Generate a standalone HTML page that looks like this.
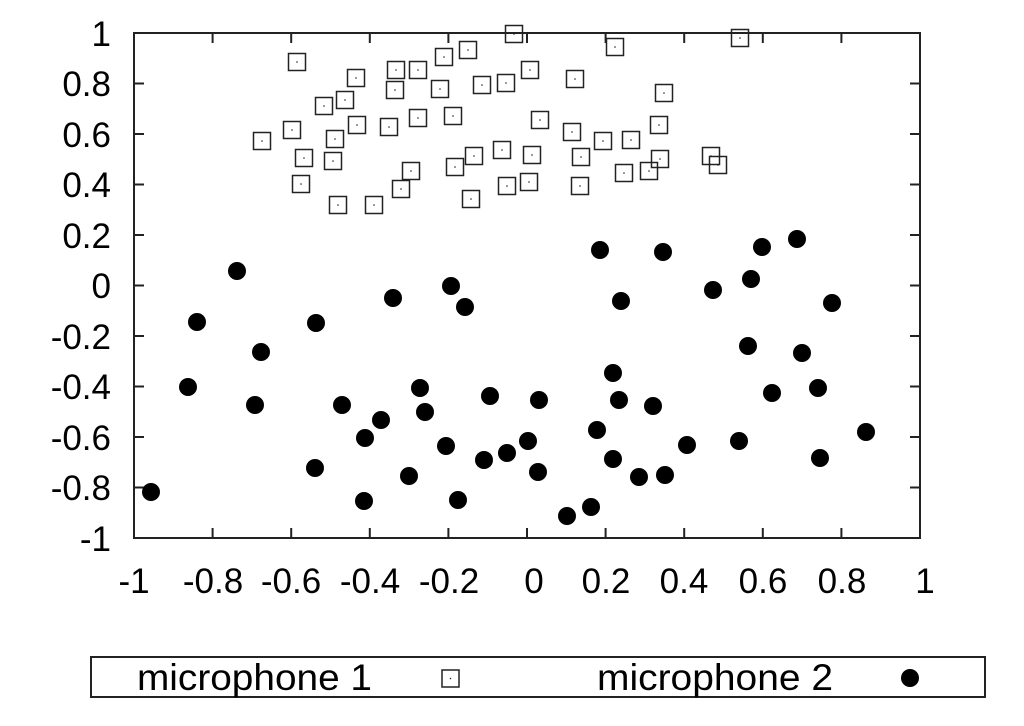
<!DOCTYPE html>
<html><head><meta charset="utf-8"><style>
html,body{margin:0;padding:0;background:#fff;}
svg{display:block;font-family:"Liberation Sans",sans-serif;}
</style></head><body>
<svg id="s" width="1024" height="726" viewBox="0 0 1024 726" xmlns="http://www.w3.org/2000/svg">
<rect x="134" y="33" width="786" height="505" fill="none" stroke="#222" stroke-width="2"/>
<g id="ticks" stroke="#222" stroke-width="2"></g>
<g font-size="35" fill="#000" text-anchor="end">
<text x="111" y="46">1</text>
<text x="111" y="96">0.8</text>
<text x="111" y="147">0.6</text>
<text x="111" y="197">0.4</text>
<text x="111" y="248">0.2</text>
<text x="111" y="298">0</text>
<text x="111" y="349">-0.2</text>
<text x="111" y="399">-0.4</text>
<text x="111" y="450">-0.6</text>
<text x="111" y="500">-0.8</text>
<text x="111" y="551">-1</text>
</g>
<g font-size="35" fill="#000" text-anchor="middle">
<text x="134" y="593">-1</text>
<text x="213" y="593">-0.8</text>
<text x="291" y="593">-0.6</text>
<text x="370" y="593">-0.4</text>
<text x="449" y="593">-0.2</text>
<text x="534" y="593">0</text>
<text x="606" y="593">0.2</text>
<text x="684" y="593">0.4</text>
<text x="763" y="593">0.6</text>
<text x="842" y="593">0.8</text>
<text x="925" y="593">1</text>
</g>
<g id="pts"></g>
<rect x="91" y="657" width="894" height="40" fill="none" stroke="#222" stroke-width="2"/>
<text x="137" y="690" font-size="37" textLength="235" lengthAdjust="spacingAndGlyphs">microphone 1</text>
<rect x="442" y="670" width="17" height="17" fill="none" stroke="#222" stroke-width="1.5"/>
<circle cx="450.5" cy="678.5" r="0.8" fill="#222"/>
<text x="597" y="690" font-size="37" textLength="236" lengthAdjust="spacingAndGlyphs">microphone 2</text>
<circle cx="910" cy="678" r="9" fill="#000"/>
</svg>
<script>
var NS="http://www.w3.org/2000/svg";
var t=document.getElementById("ticks"),p=document.getElementById("pts");
function L(x1,y1,x2,y2){var l=document.createElementNS(NS,"line");l.setAttribute("x1",x1);l.setAttribute("y1",y1);l.setAttribute("x2",x2);l.setAttribute("y2",y2);t.appendChild(l);}
for(var i=0;i<=10;i++){var x=134+i*78.6,y=33+i*50.5;L(x,538,x,528);L(x,33,x,43);L(134,y,144,y);L(920,y,910,y);}
var sq=[[297,62],[262,141],[292,130],[304,158],[301,184],[324,106],[345,100],[356,78],[335,139],[333,161],[338,205],[357,125],[374,205],[389,127],[396,70],[395,90],[418,70],[418,118],[401,189],[411,171],[440,89],[444,57],[468,50],[453,116],[455,167],[474,156],[471,199],[482,85],[506,83],[502,150],[507,186],[514,34],[530,70],[532,155],[529,182],[540,120],[575,79],[572,132],[581,157],[580,186],[603,141],[615,47],[624,173],[631,140],[649,171],[659,125],[664,93],[660,159],[711,156],[718,165],[740,38]];
var ci=[[151,492],[188,387],[197,322],[237,271],[261,352],[255,405],[316,323],[315,468],[342,405],[365,438],[381,420],[393,298],[364,501],[409,476],[420,388],[425,412],[446,446],[451,286],[458,500],[465,307],[484,460],[490,396],[507,453],[528,441],[539,400],[538,472],[567,516],[591,507],[597,430],[600,250],[613,373],[613,459],[619,400],[621,301],[639,477],[653,406],[665,475],[663,252],[687,445],[713,290],[739,441],[748,346],[751,279],[762,247],[772,393],[797,239],[802,353],[832,303],[818,388],[820,458],[866,432]];
sq.forEach(function(a){var r=document.createElementNS(NS,"rect");r.setAttribute("x",a[0]-8.5);r.setAttribute("y",a[1]-8.5);r.setAttribute("width",17);r.setAttribute("height",17);r.setAttribute("fill","none");r.setAttribute("stroke","#222");r.setAttribute("stroke-width","1.5");p.appendChild(r);var c=document.createElementNS(NS,"circle");c.setAttribute("cx",a[0]);c.setAttribute("cy",a[1]);c.setAttribute("r",0.8);c.setAttribute("fill","#222");p.appendChild(c);});
ci.forEach(function(a){var c=document.createElementNS(NS,"circle");c.setAttribute("cx",a[0]);c.setAttribute("cy",a[1]);c.setAttribute("r",9);c.setAttribute("fill","#000");p.appendChild(c);});
</script>
</body></html>
